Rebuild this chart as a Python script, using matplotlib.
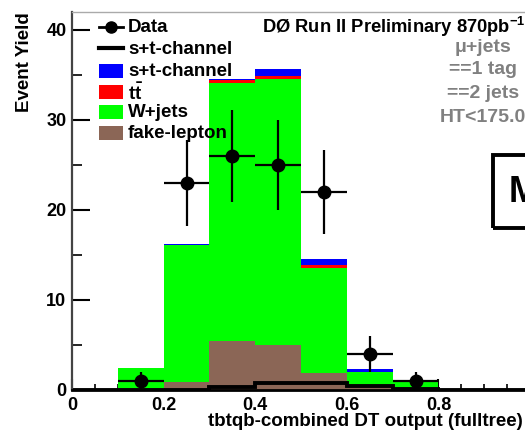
import numpy as np
import matplotlib
matplotlib.use("Agg")
import matplotlib.pyplot as plt
from matplotlib.lines import Line2D
from matplotlib.patches import Rectangle

plt.rcParams['font.family'] = ['Liberation Sans', 'DejaVu Sans']
plt.rcParams['font.weight'] = 'bold'
plt.rcParams['mathtext.fontset'] = 'custom'
plt.rcParams['mathtext.bf'] = 'Liberation Sans:bold'
plt.rcParams['mathtext.rm'] = 'Liberation Sans:bold'

# Histogram binning of the discriminant output
bin_edges = [0.0, 0.1, 0.2, 0.3, 0.4, 0.5, 0.6, 0.7, 0.8, 0.9, 1.0]

# Stacked background / signal expectations per bin
fake_lepton = [0.0, 0.0, 0.9, 5.4, 5.0, 1.85, 0.3, 0.1, 0.0, 0.0]
w_jets      = [0.0, 2.4, 15.2, 28.7, 29.55, 11.75, 1.7, 0.8, 0.05, 0.0]
ttbar       = [0.0, 0.02, 0.05, 0.3, 0.35, 0.3, 0.03, 0.02, 0.0, 0.0]
st_channel  = [0.0, 0.02, 0.05, 0.2, 0.8, 0.7, 0.3, 0.05, 0.0, 0.0]

# Signal-only template drawn as a line
st_line = [0.0, 0.0, 0.0, 0.3, 0.8, 0.8, 0.45, 0.1, 0.02, 0.02]

# Observed data
data_x = [0.15, 0.25, 0.35, 0.45, 0.55, 0.65, 0.75]
data_y = [1, 23, 26, 25, 22, 4, 1]
data_err = [1.0, 4.8, 5.1, 5.0, 4.7, 2.0, 1.0]

# Legend entries and annotation text
legend_labels = ['Data', 's+t-channel', 's+t-channel', r'$\mathbf{t\bar{t}}$',
                 'W+jets', 'fake-lepton']
selection_lines = ['μ+jets', '==1 tag', '==2 jets', 'HT<175.0']

COL_FAKE = '#8b6656'
COL_W = '#00ff00'
COL_TT = '#ff0000'
COL_ST = '#0000ff'

W, H = 525, 434
fig = plt.figure(figsize=(W / 100, H / 100), dpi=100)


def fx(x):
    return x / W


def fy(y):
    return 1 - y / H


ax = fig.add_axes([fx(72), fy(390), fx(530) - fx(72), fy(12) - fy(390)])

lo = np.array(bin_edges[:-1])
width = 0.1
bottom = np.zeros(len(lo))
for vals, col in [(fake_lepton, COL_FAKE), (w_jets, COL_W),
                  (ttbar, COL_TT), (st_channel, COL_ST)]:
    v = np.array(vals)
    ax.bar(lo, v, width=width, bottom=bottom, align='edge', color=col,
           linewidth=0, zorder=2)
    bottom = bottom + v

ax.stairs(st_line, bin_edges, color='black', linewidth=2.8, zorder=3,
          baseline=None)

ax.errorbar(data_x, data_y, yerr=data_err, xerr=0.05, fmt='o', color='black',
            markersize=9, elinewidth=1.6, capsize=0, zorder=4)

ax.set_xlim(0, 1.0)
ax.set_ylim(0, 42)
ax.set_xticks([0, 0.2, 0.4, 0.6, 0.8])
ax.set_xticklabels(['0', '0.2', '0.4', '0.6', '0.8'])
ax.set_xticks(np.arange(0, 1.0001, 0.05), minor=True)
ax.set_yticks([0, 10, 20, 30, 40])
ax.set_yticks(np.arange(0, 42, 5), minor=True)
ax.tick_params(axis='both', which='both', direction='in', labelsize=13)
ax.tick_params(axis='y', which='major', length=13, width=1.5, pad=4)
ax.tick_params(axis='y', which='minor', length=7, width=1.2)
ax.tick_params(axis='x', which='major', length=8, width=1.5, pad=5)
ax.tick_params(axis='x', which='minor', length=4, width=1.2)
for lab in ax.get_xticklabels() + ax.get_yticklabels():
    lab.set_fontweight('bold')

ax.spines['left'].set_color('#444444')
ax.spines['left'].set_linewidth(1.6)
ax.spines['bottom'].set_color('black')
ax.spines['bottom'].set_linewidth(2.0)
ax.spines['top'].set_color('#aaaaaa')
ax.spines['top'].set_linewidth(1.0)
ax.spines['right'].set_visible(False)
for s in ax.spines.values():
    s.set_zorder(5)

fig.text(fx(25), fy(12), 'Event Yield', rotation=90, ha='center', va='top',
         fontsize=13.5, fontweight='bold')
fig.text(fx(523), fy(422), 'tbtqb-combined DT output (fulltree)', ha='right',
         va='center', fontsize=13.5, fontweight='bold')

# Legend, drawn entry by entry in figure pixels
row_y = [27, 49, 71, 92, 112, 133]
hx0, hx1, tx = 99, 123, 128
fig.add_artist(Line2D([fx(hx0), fx(hx1)], [fy(row_y[0])] * 2, color='black',
                      linewidth=2, transform=fig.transFigure))
fig.add_artist(Line2D([fx((hx0 + hx1) / 2)], [fy(row_y[0])], color='black',
                      marker='o', markersize=8, transform=fig.transFigure))
fig.add_artist(Line2D([fx(hx0), fx(hx1)], [fy(row_y[1] - 1)] * 2,
                      color='black', linewidth=3,
                      transform=fig.transFigure))
for yy, col in zip(row_y[2:], [COL_ST, COL_TT, COL_W, COL_FAKE]):
    fig.add_artist(Rectangle((fx(hx0), fy(yy + 6.5)), fx(hx1) - fx(hx0),
                             fy(yy - 6.5) - fy(yy + 6.5), facecolor=col,
                             edgecolor='none', transform=fig.transFigure))
for yy, lab in zip(row_y, legend_labels):
    fig.text(fx(tx), fy(yy + 1), lab, ha='left', va='center', fontsize=13.5,
             fontweight='bold')

fig.text(fx(262), fy(27), 'DØ Run II Preliminary 870pb$^{-1}$', ha='left',
         va='center', fontsize=13.2, fontweight='bold')
for txt, yy in zip(selection_lines, [48, 70, 93, 117]):
    fig.text(fx(483), fy(yy), txt, ha='center', va='center', fontsize=14,
             fontweight='bold', color='#808080')

fig.add_artist(Rectangle((fx(493), fy(228)), fx(60), fy(155) - fy(228),
                         transform=fig.transFigure, fill=False,
                         edgecolor='black', linewidth=2.8))
fig.text(fx(509), fy(192), 'M', ha='left', va='center', fontsize=26,
         fontweight='bold')

fig.savefig('out.png', dpi=100)
